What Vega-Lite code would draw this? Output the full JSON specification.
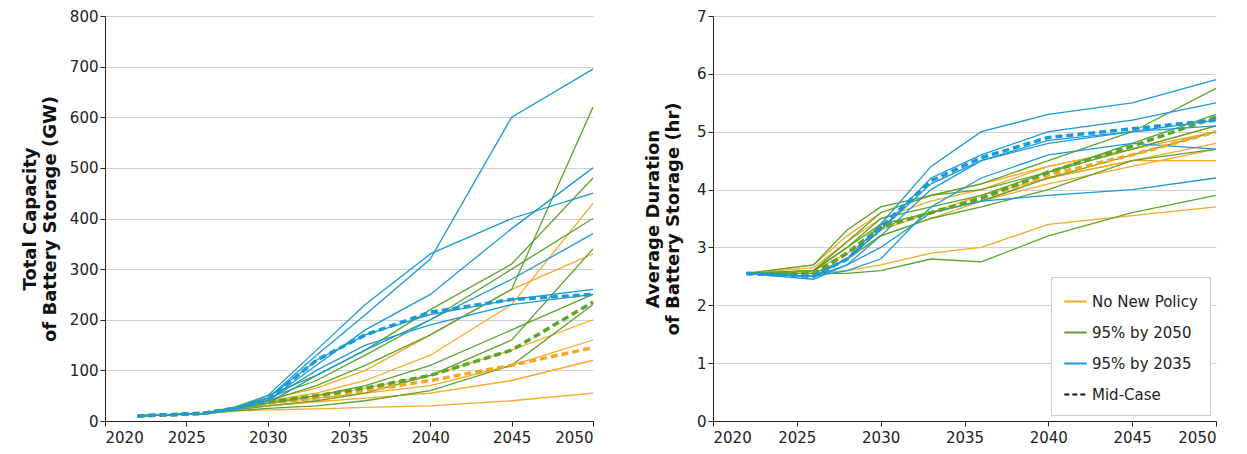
{
  "$schema": "https://vega.github.io/schema/vega-lite/v6.json",
  "padding": {"left": 21, "top": 9, "right": 10, "bottom": 5},
  "background": "white",
  "config": {
    "font": "DejaVu Sans",
    "view": {"stroke": null},
    "axis": {"labelFontSize": 15, "labelColor": "#222", "domainColor": "#222", "tickColor": "#222", "gridColor": "#d0d0d0", "titleFontSize": 18, "titleFontWeight": "bold", "titleColor": "#111"}
  },
  "spacing": 44,
  "datasets": {
    "cap": [
      {"x": 2022, "o1": 10, "o2": 10, "o3": 10, "o4": 10, "o5": 10, "o6": 10, "g1": 10, "g2": 10, "g3": 10, "g4": 10, "g5": 10, "g6": 10, "b1": 10, "b2": 10, "b3": 10, "b4": 10, "b5": 10, "b6": 10, "om": 10, "gm": 10, "bm": 10},
      {"x": 2026, "o1": 14, "o2": 15, "o3": 15, "o4": 15, "o5": 14, "o6": 15, "g1": 15, "g2": 15, "g3": 15, "g4": 14, "g5": 15, "g6": 15, "b1": 15, "b2": 15, "b3": 15, "b4": 15, "b5": 15, "b6": 15, "om": 15, "gm": 15, "bm": 15},
      {"x": 2028, "o1": 22, "o2": 25, "o3": 25, "o4": 27, "o5": 20, "o6": 26, "g1": 25, "g2": 25, "g3": 28, "g4": 20, "g5": 26, "g6": 22, "b1": 25, "b2": 25, "b3": 25, "b4": 25, "b5": 25, "b6": 22, "om": 25, "gm": 25, "bm": 25},
      {"x": 2030, "o1": 30, "o2": 35, "o3": 38, "o4": 40, "o5": 22, "o6": 42, "g1": 35, "g2": 40, "g3": 50, "g4": 25, "g5": 45, "g6": 30, "b1": 45, "b2": 40, "b3": 45, "b4": 40, "b5": 50, "b6": 35, "om": 35, "gm": 37, "bm": 42},
      {"x": 2033, "o1": 38, "o2": 45, "o3": 50, "o4": 55, "o5": 24, "o6": 65, "g1": 50, "g2": 70, "g3": 90, "g4": 30, "g5": 80, "g6": 40, "b1": 130, "b2": 110, "b3": 120, "b4": 100, "b5": 140, "b6": 90, "om": 45, "gm": 50, "bm": 120},
      {"x": 2036, "o1": 45, "o2": 55, "o3": 65, "o4": 80, "o5": 27, "o6": 100, "g1": 70, "g2": 110, "g3": 140, "g4": 40, "g5": 130, "g6": 55, "b1": 210, "b2": 180, "b3": 170, "b4": 150, "b5": 230, "b6": 140, "om": 60, "gm": 65, "bm": 170},
      {"x": 2040, "o1": 55, "o2": 70, "o3": 90, "o4": 130, "o5": 30, "o6": 170, "g1": 110, "g2": 170, "g3": 220, "g4": 60, "g5": 200, "g6": 90, "b1": 320, "b2": 250, "b3": 210, "b4": 190, "b5": 330, "b6": 200, "om": 80, "gm": 90, "bm": 215},
      {"x": 2045, "o1": 80, "o2": 110, "o3": 140, "o4": 230, "o5": 40, "o6": 260, "g1": 180, "g2": 260, "g3": 310, "g4": 110, "g5": 300, "g6": 160, "b1": 600, "b2": 380, "b3": 240, "b4": 230, "b5": 400, "b6": 280, "om": 110, "gm": 140, "bm": 240},
      {"x": 2050, "o1": 120, "o2": 160, "o3": 200, "o4": 430, "o5": 55, "o6": 330, "g1": 250, "g2": 620, "g3": 480, "g4": 230, "g5": 400, "g6": 340, "b1": 695, "b2": 500, "b3": 260, "b4": 250, "b5": 450, "b6": 370, "om": 145, "gm": 235, "bm": 250}
    ],
    "dur": [
      {"x": 2022, "o1": 2.55, "o2": 2.55, "o3": 2.55, "o4": 2.55, "o5": 2.55, "o6": 2.55, "g1": 2.55, "g2": 2.55, "g3": 2.55, "g4": 2.55, "g5": 2.55, "g6": 2.55, "b1": 2.55, "b2": 2.55, "b3": 2.55, "b4": 2.55, "b5": 2.55, "b6": 2.55, "om": 2.55, "gm": 2.55, "bm": 2.55},
      {"x": 2026, "o1": 2.55, "o2": 2.6, "o3": 2.65, "o4": 2.6, "o5": 2.7, "o6": 2.55, "g1": 2.55, "g2": 2.6, "g3": 2.6, "g4": 2.7, "g5": 2.55, "g6": 2.6, "b1": 2.5, "b2": 2.5, "b3": 2.5, "b4": 2.45, "b5": 2.5, "b6": 2.5, "om": 2.55, "gm": 2.55, "bm": 2.5},
      {"x": 2028, "o1": 2.6, "o2": 3.0, "o3": 3.1, "o4": 2.9, "o5": 3.2, "o6": 2.8, "g1": 2.55, "g2": 3.1, "g3": 3.0, "g4": 3.3, "g5": 2.8, "g6": 3.0, "b1": 2.8, "b2": 2.8, "b3": 2.7, "b4": 2.7, "b5": 2.8, "b6": 2.6, "om": 2.9, "gm": 2.9, "bm": 2.8},
      {"x": 2030, "o1": 2.7, "o2": 3.4, "o3": 3.5, "o4": 3.3, "o5": 3.6, "o6": 3.2, "g1": 2.6, "g2": 3.6, "g3": 3.4, "g4": 3.7, "g5": 3.2, "g6": 3.5, "b1": 3.4, "b2": 3.3, "b3": 3.0, "b4": 3.2, "b5": 3.3, "b6": 2.8, "om": 3.35, "gm": 3.35, "bm": 3.35},
      {"x": 2033, "o1": 2.9, "o2": 3.6, "o3": 3.8, "o4": 3.6, "o5": 3.9, "o6": 3.5, "g1": 2.8, "g2": 3.9, "g3": 3.6, "g4": 3.9, "g5": 3.5, "g6": 3.7, "b1": 4.4, "b2": 4.2, "b3": 3.6, "b4": 4.0, "b5": 4.1, "b6": 3.7, "om": 3.6, "gm": 3.6, "bm": 4.15},
      {"x": 2036, "o1": 3.0, "o2": 3.9, "o3": 4.0, "o4": 3.8, "o5": 4.1, "o6": 3.8, "g1": 2.75, "g2": 4.1, "g3": 3.8, "g4": 4.0, "g5": 3.7, "g6": 3.9, "b1": 5.0, "b2": 4.6, "b3": 3.8, "b4": 4.5, "b5": 4.5, "b6": 4.2, "om": 3.85, "gm": 3.85, "bm": 4.55},
      {"x": 2040, "o1": 3.4, "o2": 4.2, "o3": 4.4, "o4": 4.2, "o5": 4.4, "o6": 4.1, "g1": 3.2, "g2": 4.5, "g3": 4.2, "g4": 4.3, "g5": 4.0, "g6": 4.3, "b1": 5.3, "b2": 5.0, "b3": 3.9, "b4": 4.8, "b5": 4.85, "b6": 4.6, "om": 4.25, "gm": 4.3, "bm": 4.9},
      {"x": 2045, "o1": 3.55, "o2": 4.5, "o3": 4.7, "o4": 4.5, "o5": 4.7, "o6": 4.4, "g1": 3.6, "g2": 5.0, "g3": 4.6, "g4": 4.8, "g5": 4.5, "g6": 4.7, "b1": 5.5, "b2": 5.2, "b3": 4.0, "b4": 5.0, "b5": 5.0, "b6": 4.8, "om": 4.6, "gm": 4.75, "bm": 5.05},
      {"x": 2050, "o1": 3.7, "o2": 4.5, "o3": 5.1, "o4": 4.8, "o5": 5.0, "o6": 4.7, "g1": 3.9, "g2": 5.75, "g3": 5.0, "g4": 5.3, "g5": 4.7, "g6": 5.1, "b1": 5.9, "b2": 5.5, "b3": 4.2, "b4": 5.2, "b5": 5.1, "b6": 4.7, "om": 5.0, "gm": 5.25, "bm": 5.2}
    ],
    "keys": [
      {"k": "o1", "s": "No New Policy", "m": 0}, {"k": "o2", "s": "No New Policy", "m": 0}, {"k": "o3", "s": "No New Policy", "m": 0},
      {"k": "o4", "s": "No New Policy", "m": 0}, {"k": "o5", "s": "No New Policy", "m": 0}, {"k": "o6", "s": "No New Policy", "m": 0},
      {"k": "g1", "s": "95% by 2050", "m": 0}, {"k": "g2", "s": "95% by 2050", "m": 0}, {"k": "g3", "s": "95% by 2050", "m": 0},
      {"k": "g4", "s": "95% by 2050", "m": 0}, {"k": "g5", "s": "95% by 2050", "m": 0}, {"k": "g6", "s": "95% by 2050", "m": 0},
      {"k": "b1", "s": "95% by 2035", "m": 0}, {"k": "b2", "s": "95% by 2035", "m": 0}, {"k": "b3", "s": "95% by 2035", "m": 0},
      {"k": "b4", "s": "95% by 2035", "m": 0}, {"k": "b5", "s": "95% by 2035", "m": 0}, {"k": "b6", "s": "95% by 2035", "m": 0},
      {"k": "om", "s": "No New Policy", "m": 1}, {"k": "gm", "s": "95% by 2050", "m": 1}, {"k": "bm", "s": "95% by 2035", "m": 1}
    ]
  },
  "resolve": {"scale": {"color": "independent"}, "legend": {"color": "independent"}},
  "hconcat": [
    {
      "width": 488,
      "height": 405,
      "data": {"name": "cap"},
      "transform": [
        {"fold": ["o1","o2","o3","o4","o5","o6","g1","g2","g3","g4","g5","g6","b1","b2","b3","b4","b5","b6","om","gm","bm"], "as": ["k", "v"]},
        {"lookup": "k", "from": {"data": {"name": "keys"}, "key": "k", "fields": ["s", "m"]}}
      ],
      "encoding": {
        "x": {"field": "x", "type": "quantitative", "title": null, "scale": {"domain": [2020, 2050]}, "axis": {"values": [2020,2025,2030,2035,2040,2045,2050], "format": "d", "grid": false, "labelPadding": 4}},
        "y": {"field": "v", "type": "quantitative", "title": ["Total Capacity", "of Battery Storage (GW)"], "scale": {"domain": [0, 800]}, "axis": {"tickCount": 8, "titlePadding": 10}},
        "color": {"field": "s", "type": "nominal", "legend": null, "scale": {"domain": ["No New Policy", "95% by 2050", "95% by 2035", "Mid-Case"], "range": ["#f9a825", "#5aa52c", "#1a9ad9", "#111111"]}},
        "detail": {"field": "k"}
      },
      "layer": [
        {"transform": [{"filter": "datum.m == 0"}], "mark": {"type": "line", "strokeWidth": 1.3}},
        {"transform": [{"filter": "datum.m == 1"}], "mark": {"type": "line", "strokeWidth": 3.5, "strokeDash": [7, 4]}}
      ]
    },
    {
      "width": 503,
      "height": 405,
      "data": {"name": "dur"},
      "transform": [
        {"fold": ["o1","o2","o3","o4","o5","o6","g1","g2","g3","g4","g5","g6","b1","b2","b3","b4","b5","b6","om","gm","bm"], "as": ["k", "v"]},
        {"lookup": "k", "from": {"data": {"name": "keys"}, "key": "k", "fields": ["s", "m"]}}
      ],
      "encoding": {
        "x": {"field": "x", "type": "quantitative", "title": null, "scale": {"domain": [2020, 2050]}, "axis": {"values": [2020,2025,2030,2035,2040,2045,2050], "format": "d", "grid": false, "labelPadding": 4}},
        "y": {"field": "v", "type": "quantitative", "title": ["Average Duration", "of Battery Storage (hr)"], "scale": {"domain": [0, 7]}, "axis": {"tickCount": 7, "titlePadding": 14}},
        "color": {"field": "s", "type": "nominal", "scale": {"domain": ["No New Policy", "95% by 2050", "95% by 2035", "Mid-Case"], "range": ["#f9a825", "#5aa52c", "#1a9ad9", "#111111"]},
          "legend": {"title": null, "orient": "bottom-right", "symbolType": "stroke", "symbolStrokeWidth": 2, "symbolSize": 500, "labelFontSize": 15, "labelColor": "#222", "rowPadding": 10, "padding": 12, "strokeColor": "#ccc", "fillColor": "white", "offset": 6,
            "encode": {"symbols": {"update": {"strokeDash": {"signal": "datum.value == 'Mid-Case' ? [5, 3] : [1, 0]"}}}}}},
        "detail": {"field": "k"}
      },
      "layer": [
        {"transform": [{"filter": "datum.m == 0"}], "mark": {"type": "line", "strokeWidth": 1.3}},
        {"transform": [{"filter": "datum.m == 1"}], "mark": {"type": "line", "strokeWidth": 3.5, "strokeDash": [7, 4]}}
      ]
    }
  ]
}
